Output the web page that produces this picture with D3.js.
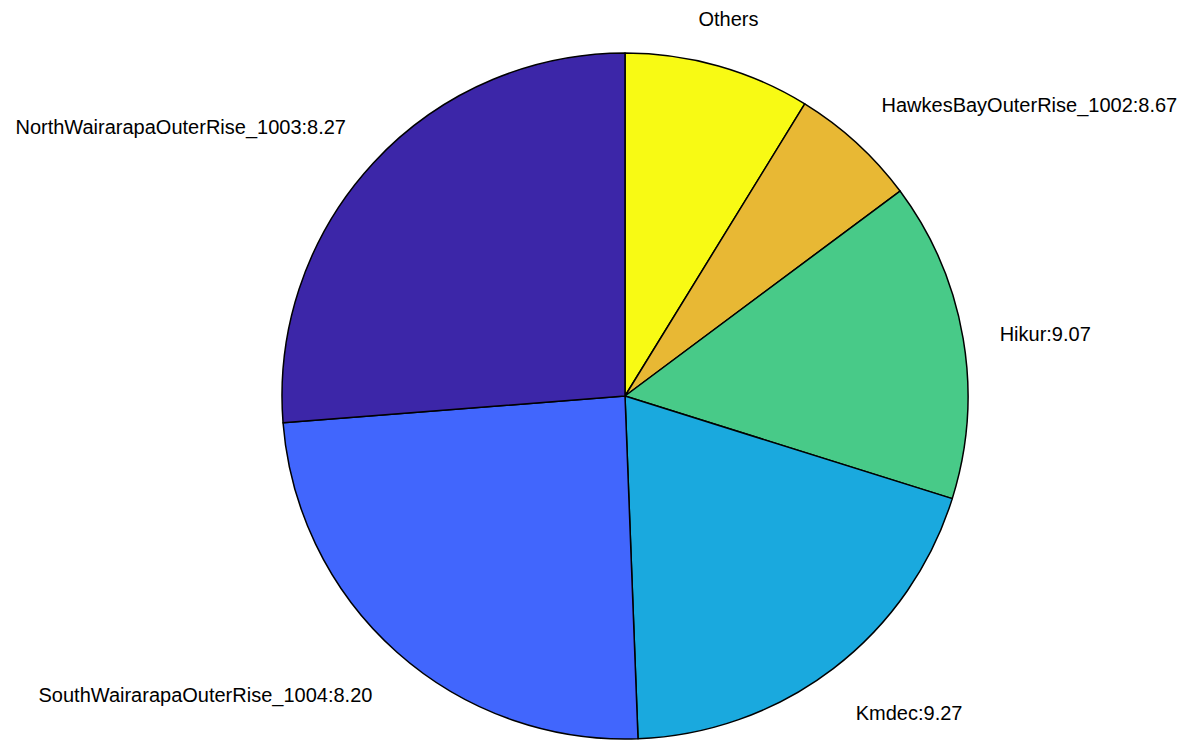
<!DOCTYPE html>
<html>
<head>
<meta charset="utf-8">
<script src="https://cdn.jsdelivr.net/npm/d3@7"></script>
<style>
  html, body { margin: 0; padding: 0; background: #ffffff; }
  svg text { font-family: "Liberation Sans", Arial, Helvetica, sans-serif; font-size: 20px; fill: #000; }
</style>
</head>
<body>
<svg id="chart" width="1189" height="740"></svg>
<script>
// Slice order: clockwise from 12 o'clock
const labels = [
  "Others",
  "HawkesBayOuterRise_1002:8.67",
  "Hikur:9.07",
  "Kmdec:9.27",
  "SouthWairarapaOuterRise_1004:8.20",
  "NorthWairarapaOuterRise_1003:8.27"
];
// Slice shares (percent)
const shares = [8.78, 6.03, 15.03, 19.56, 24.36, 26.25];
const colors = ["#F8FA14", "#E8B834", "#48CA88", "#1AA9DE", "#4166FD", "#3C26A8"];

const svg = d3.select("#chart");
const cx = 625, cy = 396, radius = 343, labelRadius = 380;

const data = labels.map((l, i) => ({ label: l, value: shares[i], color: colors[i] }));

const pie = d3.pie().value(d => d.value).sort(null);
const arcs = pie(data);
const arc = d3.arc().innerRadius(0).outerRadius(radius);

const g = svg.append("g").attr("transform", `translate(${cx},${cy})`);

g.selectAll("path.slice")
  .data(arcs)
  .enter().append("path")
  .attr("class", "slice")
  .attr("d", arc)
  .attr("fill", d => d.data.color)
  .attr("stroke", "#000")
  .attr("stroke-width", 1.5)
  .attr("stroke-linejoin", "round");

g.selectAll("text.lbl")
  .data(arcs)
  .enter().append("text")
  .attr("class", "lbl")
  .each(function(d) {
    const a = (d.startAngle + d.endAngle) / 2;
    const x = labelRadius * Math.sin(a);
    const y = -labelRadius * Math.cos(a);
    const s = Math.sin(a), c = Math.cos(a);
    let anchor = "middle";
    if (Math.abs(s) >= 0.38) anchor = s > 0 ? "start" : "end";
    let baseY;
    if (Math.abs(c) < 0.38) baseY = y + 9;
    else if (c > 0) baseY = y - 4;
    else baseY = y + 22;
    d3.select(this)
      .attr("x", x)
      .attr("y", baseY)
      .attr("text-anchor", anchor)
      .text(d.data.label);
  });
</script>
</body>
</html>
